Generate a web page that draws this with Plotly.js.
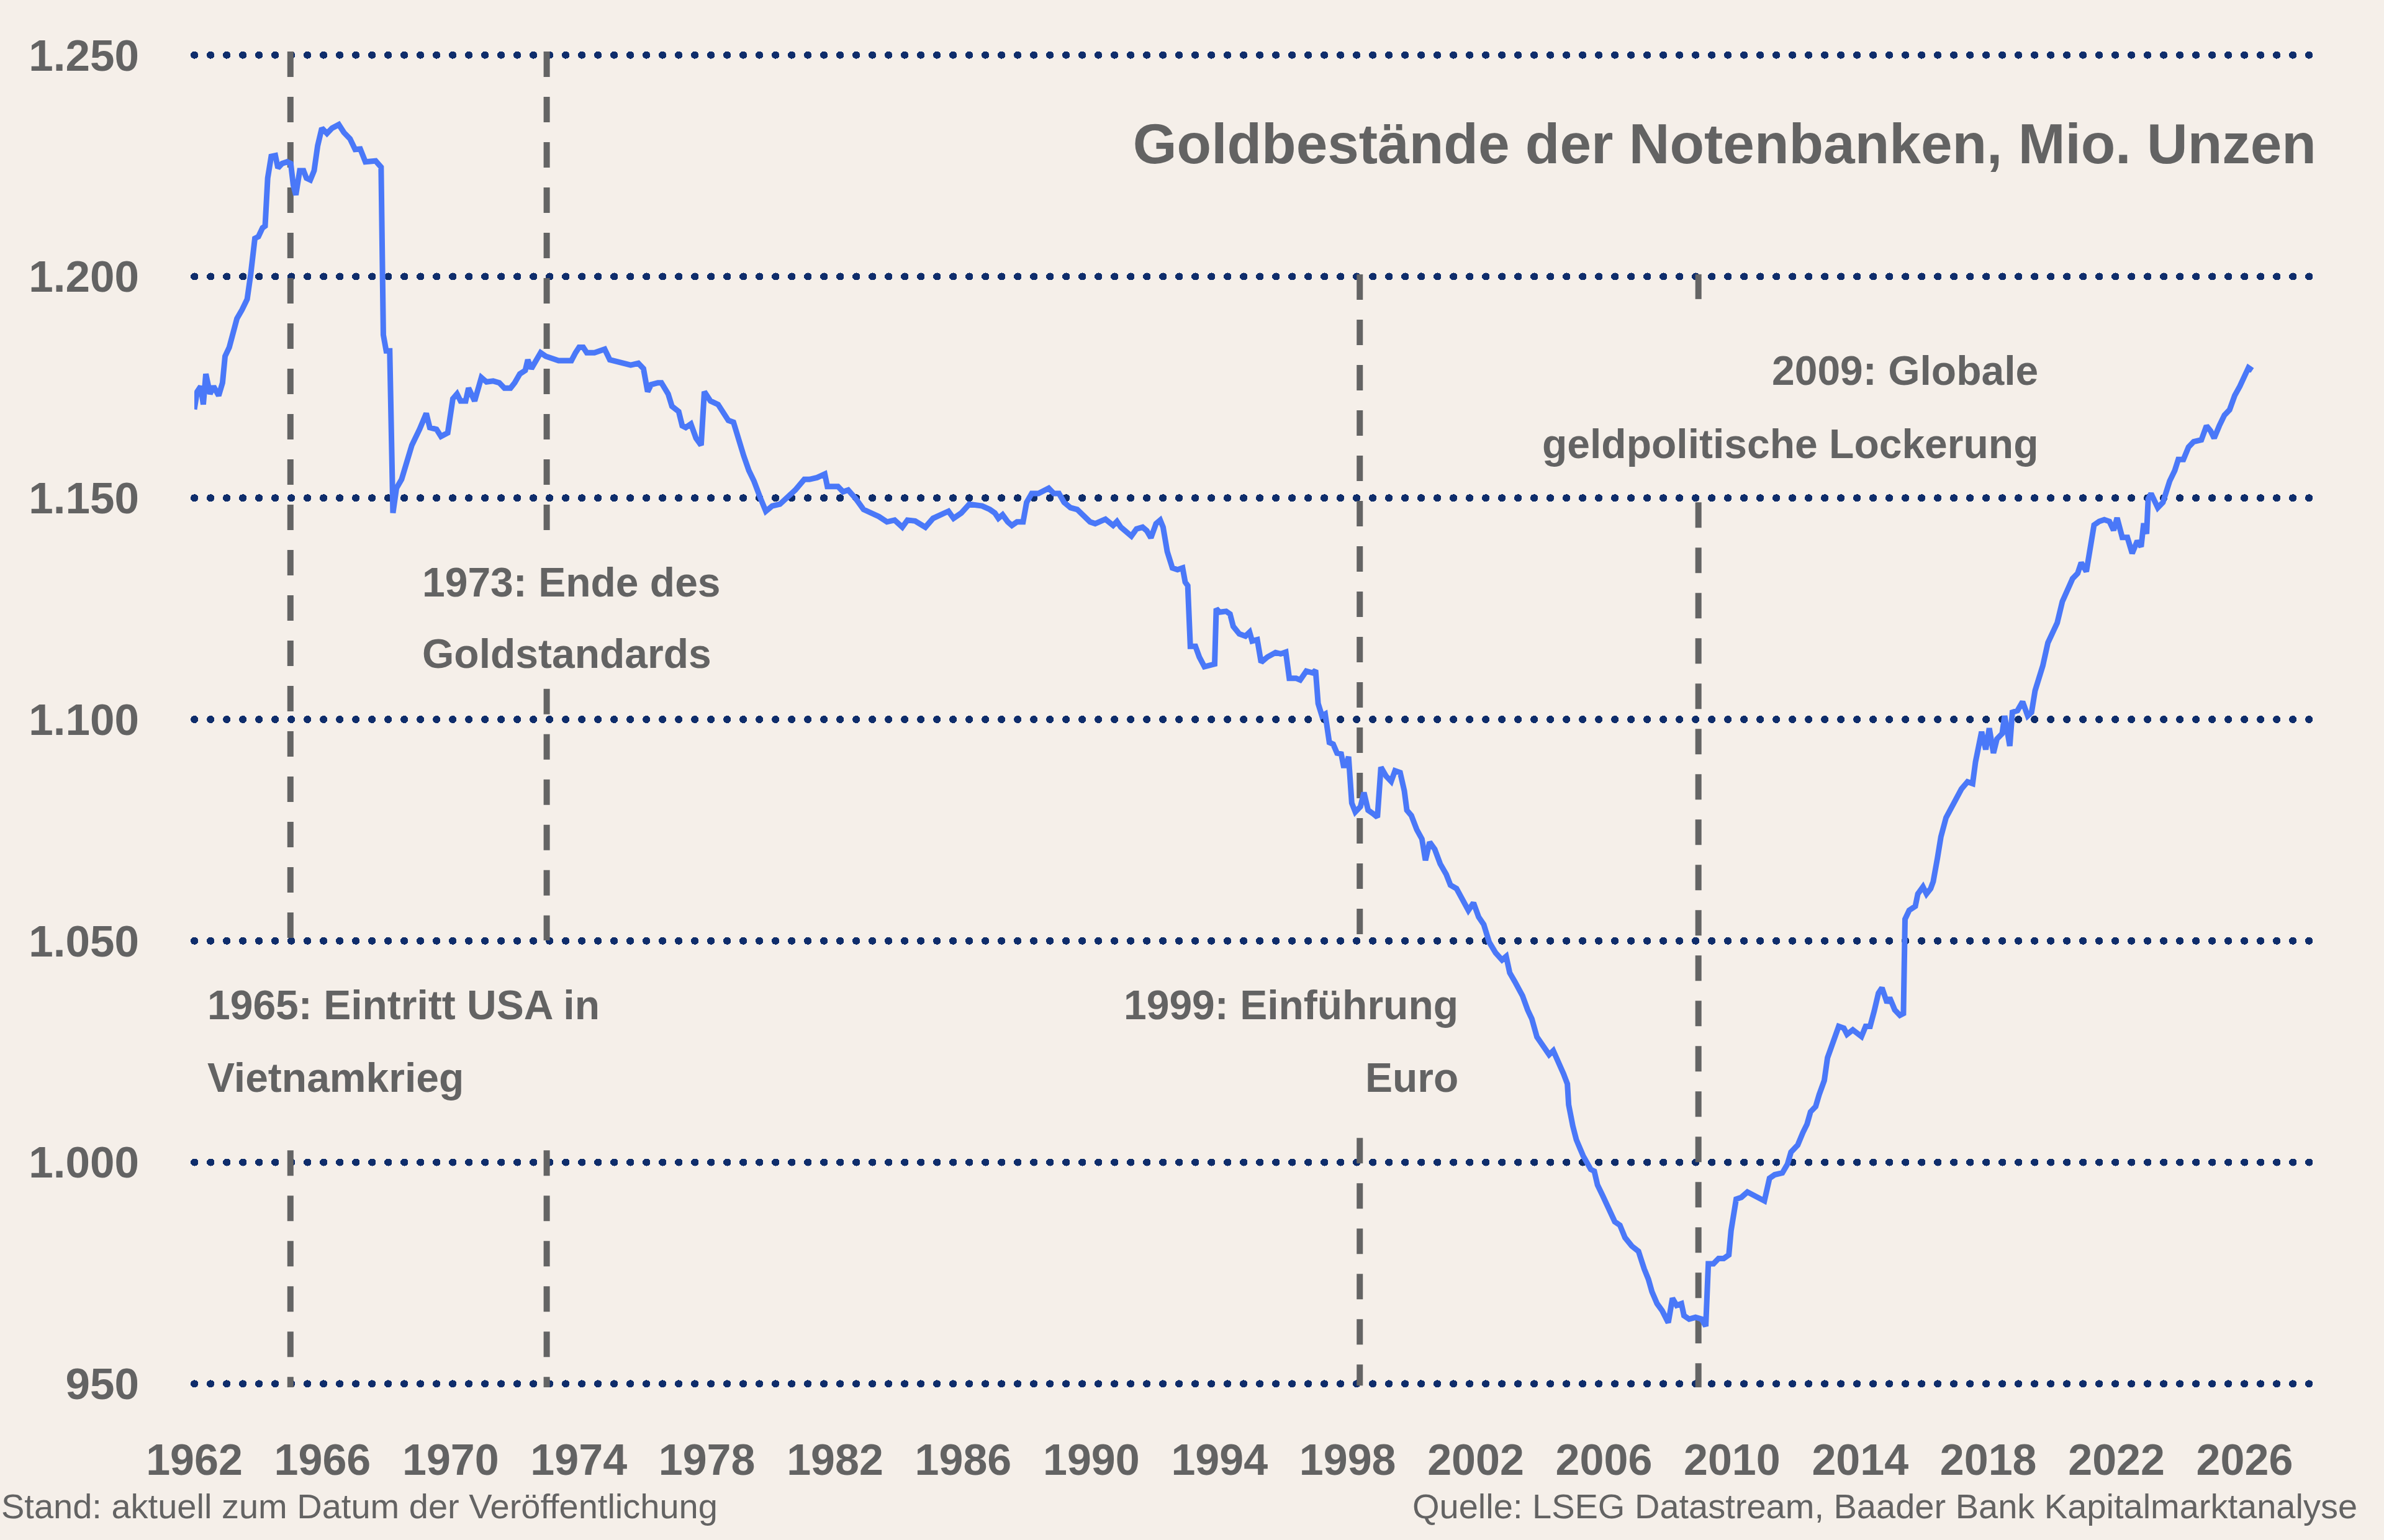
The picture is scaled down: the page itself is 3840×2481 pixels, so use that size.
<!DOCTYPE html>
<html><head><meta charset="utf-8">
<script src="https://cdn.plot.ly/plotly-3.0.1.min.js"></script>
<style>
html,body{margin:0;padding:0;background:#f5efe9;}
#chart{width:3840px;height:2481px;}
.ygrid{stroke-linecap:round !important;}
</style></head><body><div id="chart"></div>
<script>
// Gold holdings of central banks, million ounces
const years = [
1962.00,1962.09,1962.20,1962.28,1962.36,1962.49,1962.60,1962.76,1962.88,1962.96,
1963.09,1963.33,1963.49,1963.65,1963.76,1963.89,1964.00,1964.13,1964.21,1964.29,
1964.40,1964.53,1964.61,1964.74,1964.90,1965.01,1965.09,1965.17,1965.29,1965.41,
1965.50,1965.62,1965.74,1965.85,1965.98,1966.14,1966.30,1966.51,1966.67,1966.86,
1967.02,1967.18,1967.34,1967.50,1967.66,1967.83,1967.90,1967.99,1968.10,1968.20,
1968.31,1968.47,1968.63,1968.79,1969.03,1969.24,1969.35,1969.56,1969.70,1969.91,
1970.07,1970.20,1970.31,1970.47,1970.56,1970.68,1970.75,1970.96,1971.12,1971.33,
1971.52,1971.68,1971.87,1972.00,1972.16,1972.33,1972.41,1972.52,1972.65,1972.81,
1972.97,1973.13,1973.37,1973.61,1973.77,1973.90,1974.01,1974.14,1974.25,1974.49,
1974.65,1974.81,1974.97,1975.14,1975.38,1975.62,1975.86,1976.02,1976.15,1976.26,
1976.47,1976.58,1976.79,1976.91,1977.12,1977.23,1977.34,1977.50,1977.66,1977.82,
1977.92,1978.11,1978.35,1978.51,1978.67,1978.83,1978.99,1979.15,1979.31,1979.47,
1979.68,1979.84,1980.04,1980.28,1980.52,1980.76,1981.04,1981.20,1981.44,1981.68,
1981.76,1982.09,1982.25,1982.41,1982.65,1982.89,1983.13,1983.37,1983.62,1983.86,
1984.10,1984.26,1984.50,1984.66,1984.82,1985.06,1985.30,1985.54,1985.70,1985.94,
1986.19,1986.43,1986.59,1986.83,1986.99,1987.10,1987.23,1987.39,1987.52,1987.68,
1987.87,1987.98,1988.14,1988.35,1988.54,1988.67,1988.83,1988.99,1989.15,1989.35,
1989.56,1989.80,1989.96,1990.12,1990.28,1990.44,1990.68,1990.80,1990.92,1991.09,
1991.25,1991.41,1991.60,1991.73,1991.86,1992.02,1992.15,1992.24,1992.37,1992.53,
1992.69,1992.85,1992.93,1993.01,1993.09,1993.25,1993.37,1993.53,1993.74,1993.85,
1993.90,1994.00,1994.21,1994.33,1994.43,1994.62,1994.81,1994.94,1995.02,1995.18,
1995.30,1995.50,1995.75,1995.91,1996.07,1996.18,1996.39,1996.52,1996.71,1996.91,
1997.00,1997.08,1997.20,1997.30,1997.43,1997.55,1997.67,1997.80,1997.87,1997.96,
1998.03,1998.13,1998.24,1998.40,1998.51,1998.64,1998.80,1998.93,1999.04,1999.20,
1999.36,1999.48,1999.64,1999.77,1999.85,1999.99,2000.16,2000.32,2000.43,2000.56,
2000.72,2000.89,2001.08,2001.21,2001.40,2001.53,2001.77,2001.93,2002.09,2002.25,
2002.42,2002.62,2002.82,2002.95,2003.06,2003.22,2003.46,2003.62,2003.75,2003.91,
2004.10,2004.29,2004.42,2004.58,2004.74,2004.86,2004.90,2005.03,2005.14,2005.35,
2005.43,2005.59,2005.70,2005.80,2005.96,2006.07,2006.18,2006.34,2006.50,2006.66,
2006.87,2007.08,2007.26,2007.39,2007.50,2007.66,2007.82,2008.01,2008.14,2008.27,
2008.42,2008.50,2008.66,2008.86,2009.05,2009.18,2009.26,2009.42,2009.58,2009.74,
2009.90,2009.97,2010.13,2010.29,2010.48,2010.69,2010.85,2011.01,2011.17,2011.33,
2011.57,2011.73,2011.84,2012.05,2012.21,2012.34,2012.45,2012.61,2012.72,2012.88,
2012.98,2013.09,2013.20,2013.33,2013.49,2013.59,2013.77,2013.91,2014.04,2014.17,
2014.31,2014.44,2014.57,2014.68,2014.84,2014.92,2015.08,2015.24,2015.35,2015.40,
2015.53,2015.72,2015.80,2015.96,2016.07,2016.20,2016.28,2016.41,2016.52,2016.68,
2016.84,2017.00,2017.16,2017.35,2017.51,2017.60,2017.71,2017.79,2017.92,2018.03,
2018.16,2018.27,2018.43,2018.51,2018.67,2018.75,2018.91,2019.07,2019.23,2019.35,
2019.46,2019.59,2019.70,2019.86,2020.02,2020.15,2020.31,2020.47,2020.63,2020.79,
2020.90,2021.06,2021.17,2021.30,2021.46,2021.62,2021.78,2021.91,2022.02,2022.18,
2022.34,2022.49,2022.65,2022.77,2022.85,2022.94,2022.99,2023.08,2023.29,2023.45,
2023.66,2023.82,2023.93,2024.09,2024.25,2024.41,2024.65,2024.81,2024.94,2025.05,
2025.21,2025.37,2025.53,2025.69,2025.85,2026.01,2026.12,2026.24
];
const holdings = [
1170.0,1174.0,1175.2,1171.1,1178.0,1173.5,1175.2,1173.1,1176.0,1182.0,
1184.0,1190.5,1192.5,1194.9,1200.5,1208.6,1209.0,1211.0,1211.4,1222.2,
1227.1,1227.3,1224.5,1225.5,1225.9,1225.5,1220.6,1218.4,1223.9,1223.9,
1222.2,1221.8,1223.9,1229.5,1233.5,1232.3,1233.5,1234.3,1232.5,1231.1,
1228.7,1228.8,1225.9,1225.9,1226.1,1224.7,1186.8,1183.2,1183.2,1146.6,
1152.2,1154.2,1157.9,1161.9,1165.5,1169.1,1165.9,1165.5,1163.9,1164.7,
1172.4,1173.5,1171.9,1171.9,1174.8,1172.4,1171.9,1177.2,1176.2,1176.4,
1176.0,1174.8,1174.8,1176.0,1178.0,1178.8,1181.2,1179.2,1180.8,1182.8,
1182.0,1181.6,1181.0,1181.0,1181.0,1182.8,1184.0,1184.0,1182.8,1182.8,
1183.2,1183.6,1181.2,1180.8,1180.4,1180.0,1180.4,1179.2,1174.0,1175.6,
1176.0,1176.0,1173.5,1170.7,1169.5,1166.3,1165.9,1166.7,1163.5,1161.9,
1174.0,1171.9,1171.1,1169.1,1167.5,1167.1,1162.7,1159.5,1156.2,1153.8,
1149.8,1147.0,1148.2,1148.6,1150.2,1151.8,1154.2,1154.2,1154.6,1155.4,
1152.6,1152.6,1151.4,1151.8,1149.8,1147.4,1146.6,1145.8,1144.6,1145.0,
1143.4,1145.0,1144.8,1144.2,1143.4,1145.4,1146.2,1147.0,1145.4,1146.6,
1148.6,1148.2,1148.2,1147.4,1146.6,1145.4,1146.2,1144.6,1143.8,1144.6,
1144.6,1149.0,1151.0,1151.0,1151.8,1152.2,1151.0,1151.0,1149.0,1147.8,
1147.4,1145.8,1144.6,1144.2,1144.6,1145.2,1143.8,1144.7,1143.4,1142.2,
1141.4,1143.0,1143.4,1142.6,1141.0,1144.2,1145.0,1143.4,1137.9,1134.2,
1133.8,1134.2,1131.0,1130.2,1116.5,1116.5,1114.1,1111.9,1112.1,1112.5,
1125.0,1124.2,1124.4,1123.8,1121.0,1119.3,1118.8,1119.7,1117.7,1118.0,
1112.9,1114.1,1115.1,1114.8,1115.2,1109.3,1109.3,1108.9,1110.9,1110.5,
1111.1,1103.6,1100.8,1101.2,1094.8,1094.4,1092.4,1092.2,1089.6,1089.6,
1091.6,1081.1,1079.1,1080.3,1083.5,1079.5,1078.7,1077.9,1089.2,1087.2,
1086.0,1088.4,1088.0,1083.9,1079.5,1078.3,1075.1,1073.0,1068.2,1072.3,
1070.7,1067.4,1065.0,1062.6,1061.8,1060.2,1056.9,1058.6,1055.4,1053.7,
1049.7,1047.3,1045.7,1046.5,1042.8,1040.8,1037.6,1034.4,1032.4,1028.3,
1026.3,1024.3,1025.2,1022.8,1020.0,1017.7,1013.0,1008.2,1005.1,1001.5,
1000.4,998.4,998.0,994.9,992.5,990.9,989.0,986.6,985.8,983.0,
981.1,979.9,975.9,973.6,970.8,968.1,966.5,963.8,969.3,967.7,
968.1,965.4,964.6,965.0,964.6,963.0,977.1,977.1,978.3,978.3,
979.1,984.6,991.7,992.1,993.3,992.5,991.7,991.3,996.4,997.2,
997.6,999.6,1002.3,1003.9,1006.7,1008.6,1011.4,1012.6,1015.3,1018.5,
1023.6,1025.6,1028.0,1030.7,1030.3,1028.9,1029.9,1029.2,1028.4,1030.7,
1030.7,1034.2,1038.2,1039.4,1036.0,1037.2,1034.4,1033.2,1033.6,1054.9,
1056.9,1057.8,1060.6,1062.2,1060.6,1061.8,1063.4,1068.6,1073.5,1077.8,
1079.9,1081.9,1084.3,1085.9,1085.5,1090.4,1094.8,1097.2,1093.2,1098.0,
1092.4,1095.6,1096.8,1100.8,1094.0,1101.6,1102.0,1104.0,1100.8,1101.6,
1106.5,1109.3,1112.1,1117.3,1119.8,1121.8,1126.6,1129.0,1131.8,1133.0,
1135.4,1133.4,1139.0,1143.9,1144.7,1145.1,1144.7,1142.7,1145.5,1141.1,
1141.1,1137.5,1140.3,1139.0,1144.3,1141.9,1149.8,1151.0,1147.8,1149.0,
1153.8,1156.2,1158.7,1158.7,1161.5,1162.7,1163.1,1166.3,1165.1,1163.5,
1166.3,1168.7,1169.9,1173.1,1175.2,1178.0,1179.4,1178.8
];
const yearTicks = [1962,1966,1970,1974,1978,1982,1986,1990,1994,1998,2002,2006,2010,2014,2018,2022,2026];
const valueTicks = [950,1000,1050,1100,1150,1200,1250];
const valueTickText = ["950","1.000","1.050","1.100","1.150","1.200","1.250"];

// event markers: x position, and the visible dashed stretches (pairs of top/bottom values)
const eventYears = [1965.0, 1973.0, 1998.38, 2008.95];
const eventSpans = [
  [[1250.8, 1050.1], [1002.7, 949.2]],
  [[1250.8, 1142.6], [1106.9, 1050.1], [1002.7, 949.2]],
  [[1200.5, 1050.9], [1005.5, 949.6]],
  [[1200.5, 1194.9], [1149.0, 949.2]]
];
const eventLabels = [
  ["1965: Eintritt USA in", "Vietnamkrieg"],
  ["1973: Ende des", "Goldstandards"],
  ["1999: Einführung", "Euro"],
  ["2009: Globale", "geldpolitische Lockerung"]
];
// label anchor: x (year), side, line y values
const eventLabelPos = [
  {x: 1962.37, anchor: "left",  y: [1035.6, 1019.2]},
  {x: 1969.07, anchor: "left",  y: [1131.0, 1114.9]},
  {x: 2001.50, anchor: "right", y: [1035.6, 1019.2]},
  {x: 2019.60, anchor: "right", y: [1178.8, 1162.2]}
];

const titleText = "Goldbestände der Notenbanken, Mio. Unzen";
const footLeft = "Stand: aktuell zum Datum der Veröffentlichung";
const footRight = "Quelle: LSEG Datastream, Baader Bank Kapitalmarktanalyse";

const BG = "#f5efe9";
const GREY = "#636363";
const FONT = "Liberation Sans, Arial, sans-serif";

const shapes = [];
eventYears.forEach((x, i) => {
  eventSpans[i].forEach(seg => {
    shapes.push({type: "line", xref: "x", yref: "y", x0: x, x1: x, y0: seg[0], y1: seg[1],
      layer: "between", line: {color: "#646464", width: 10, dash: "41px,32px"}});
  });
});

const annotations = [];
eventLabels.forEach((lines, i) => {
  const p = eventLabelPos[i];
  lines.forEach((t, j) => {
    annotations.push({text: t, xref: "x", yref: "y", x: p.x, y: p.y[j],
      xanchor: p.anchor, yanchor: "middle", showarrow: false, align: p.anchor,
      font: {family: FONT, size: 66, color: GREY, weight: 700}});
  });
});
annotations.push({text: footLeft, xref: "paper", yref: "paper", x: -0.0912, y: -0.0729,
  xanchor: "left", yanchor: "middle", showarrow: false,
  font: {family: FONT, size: 56, color: GREY}});
annotations.push({text: footRight, xref: "paper", yref: "paper", x: 1.0157, y: -0.0729,
  xanchor: "right", yanchor: "middle", showarrow: false,
  font: {family: FONT, size: 56, color: GREY}});

const trace = {
  x: years, y: holdings, type: "scatter", mode: "lines",
  line: {color: "#4a78f8", width: 9, shape: "linear"},
  hoverinfo: "skip"
};

const layout = {
  width: 3840, height: 2481,
  paper_bgcolor: BG, plot_bgcolor: BG,
  margin: {l: 313, r: 95, t: 53, b: 216, pad: 0},
  showlegend: false,
  title: {text: titleText, x: 0.9716, xref: "container", xanchor: "right",
    y: 0.9069, yref: "container", yanchor: "middle",
    font: {family: FONT, size: 91, color: GREY, weight: 700}},
  xaxis: {range: [1962, 2028.51], showgrid: false, zeroline: false, showline: false,
    tickmode: "array", tickvals: yearTicks, ticktext: yearTicks.map(String),
    ticks: "", ticklabelstandoff: 40,
    tickfont: {family: FONT, size: 70, color: GREY, weight: 700}},
  yaxis: {range: [945, 1255], showgrid: true, gridcolor: "#0f2d6b", gridwidth: 12,
    griddash: "0.5px,25.5px", zeroline: false, showline: false,
    tickmode: "array", tickvals: valueTicks, ticktext: valueTickText,
    ticks: "", ticklabelstandoff: 88,
    tickfont: {family: FONT, size: 71, color: GREY, weight: 700}},
  shapes: shapes,
  annotations: annotations
};

Plotly.newPlot("chart", [trace], layout, {staticPlot: true, displayModeBar: false});
</script></body></html>
